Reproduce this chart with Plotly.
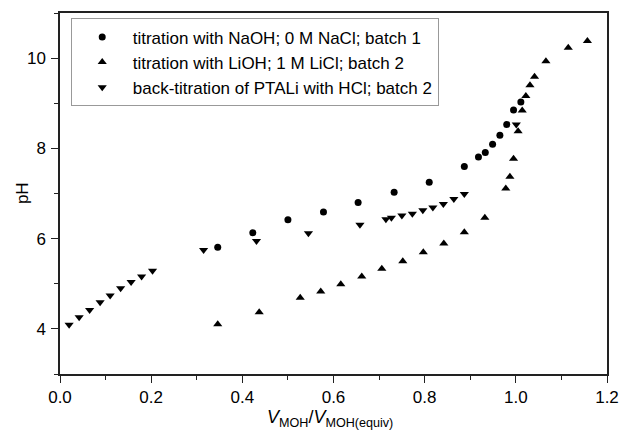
import plotly.graph_objects as go

# titration with NaOH; 0 M NaCl; batch 1
naoh_x = [0.346, 0.423, 0.500, 0.578, 0.654, 0.733, 0.810, 0.887, 0.918, 0.933,
          0.949, 0.965, 0.980, 0.995, 1.011]
naoh_ph = [5.81, 6.13, 6.42, 6.59, 6.80, 7.03, 7.25, 7.60, 7.81, 7.91,
           8.09, 8.29, 8.53, 8.85, 9.03]

# titration with LiOH; 1 M LiCl; batch 2
lioh_x = [0.346, 0.437, 0.527, 0.572, 0.616, 0.662, 0.706, 0.752, 0.797, 0.842,
          0.887, 0.932, 0.978, 0.987, 0.995, 1.005, 1.014, 1.022, 1.031, 1.041,
          1.066, 1.115, 1.157]
lioh_ph = [4.10, 4.37, 4.69, 4.83, 4.99, 5.16, 5.33, 5.50, 5.70, 5.89,
           6.14, 6.46, 7.11, 7.37, 7.77, 8.38, 8.84, 9.16, 9.40, 9.59,
           9.93, 10.23, 10.38]

# back-titration of PTALi with HCl; batch 2
back_x = [0.020, 0.042, 0.065, 0.088, 0.110, 0.133, 0.156, 0.179, 0.203, 0.315,
          0.431, 0.545, 0.658, 0.715, 0.727, 0.750, 0.773, 0.796, 0.818, 0.841,
          0.864, 0.887, 1.001]
back_ph = [4.09, 4.26, 4.42, 4.59, 4.74, 4.90, 5.04, 5.16, 5.29, 5.75,
           5.95, 6.12, 6.31, 6.43, 6.46, 6.51, 6.55, 6.63, 6.69, 6.77,
           6.88, 6.99, 8.53]

series_names = [
    "titration with NaOH; 0 M NaCl; batch 1",
    "titration with LiOH; 1 M LiCl; batch 2",
    "back-titration of PTALi with HCl; batch 2",
]
x_title = "<i>V</i><sub>MOH</sub>/<i>V</i><sub>MOH(equiv)</sub>"
y_title = "pH"

FONT = "Liberation Sans, Arial, sans-serif"

fig = go.Figure()
fig.add_trace(go.Scatter(x=naoh_x, y=naoh_ph, mode="markers", name=series_names[0],
                         marker=dict(symbol="circle", size=7, color="black")))
fig.add_trace(go.Scatter(x=lioh_x, y=lioh_ph, mode="markers", name=series_names[1],
                         marker=dict(symbol="triangle-up", size=8, color="black")))
fig.add_trace(go.Scatter(x=back_x, y=back_ph, mode="markers", name=series_names[2],
                         marker=dict(symbol="triangle-down", size=8, color="black")))

axis_common = dict(
    showline=True, linecolor="#222", linewidth=1.5, mirror=True,
    ticks="outside", ticklen=7, tickwidth=1, tickcolor="#222",
    showgrid=False, zeroline=False, automargin=False,
    tickfont=dict(family=FONT, size=17, color="black"),
)

fig.update_xaxes(range=[0, 1.2], dtick=0.2, tickformat=".1f",
                 minor=dict(dtick=0.1, ticks="outside", ticklen=4, tickcolor="#222"),
                 **axis_common)
fig.update_yaxes(range=[3, 11], dtick=2,
                 minor=dict(dtick=1, ticks="outside", ticklen=4, tickcolor="#222"),
                 ticklabelstandoff=2,
                 **axis_common)

fig.add_annotation(text=x_title, xref="paper", yref="paper", x=0.494, y=-0.085,
                   xanchor="center", yanchor="top", showarrow=False,
                   font=dict(family=FONT, size=18, color="black"))
fig.add_annotation(text=y_title, xref="paper", yref="paper", x=-0.0695, y=0.501,
                   xanchor="center", yanchor="middle", showarrow=False, textangle=-90,
                   font=dict(family=FONT, size=17, color="black"))

fig.update_layout(
    width=621, height=430,
    margin=dict(l=60, r=14, t=13, b=56),
    plot_bgcolor="white", paper_bgcolor="white",
    font=dict(family=FONT, size=16, color="black"),
    legend=dict(x=0.0196, y=0.985, xanchor="left", yanchor="top",
                bordercolor="#999", borderwidth=1, bgcolor="white",
                font=dict(family=FONT, size=17, color="black"),
                itemwidth=51, tracegroupgap=0),
    showlegend=True,
)

fig.write_html("out.html")
